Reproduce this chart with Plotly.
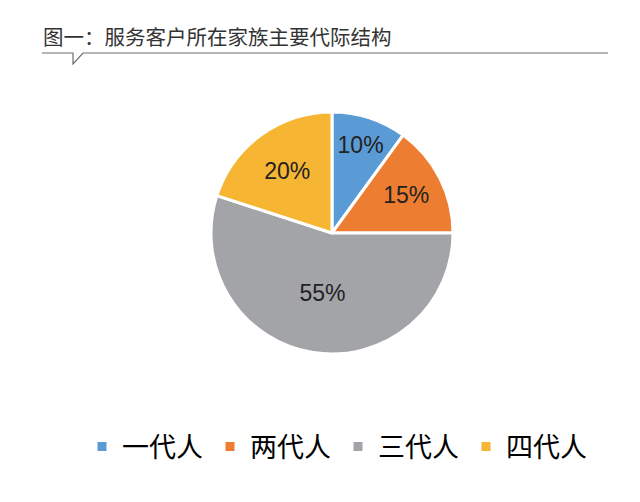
import plotly.graph_objects as go

categories = ["一代人", "两代人", "三代人", "四代人"]
values = [10, 15, 55, 20]
colors = ["#5B9BD5", "#ED7D31", "#A3A4A8", "#F7B534"]
title_text = "图一：服务客户所在家族主要代际结构"

fig = go.Figure()
fig.add_trace(go.Pie(
    labels=categories,
    values=values,
    sort=False,
    direction="clockwise",
    rotation=0,
    marker=dict(colors=colors, line=dict(color="white", width=3)),
    textinfo="percent",
    texttemplate="%{percent:.0%}",
    textposition="inside",
    insidetextorientation="horizontal",
    textfont=dict(family="Liberation Sans, Arial", size=23, color="#222222"),
    domain=dict(x=[211/640, 453/640], y=[1-354/502, 1-112/502]),
    hoverinfo="skip",
))

fig.add_annotation(
    text=title_text, xref="paper", yref="paper", x=41/640, y=1-36/502,
    xanchor="left", yanchor="middle", showarrow=False,
    font=dict(family="Noto Sans CJK SC", size=20.5, color="#333333"),
)
# underline with notch
fig.add_shape(type="path", xref="paper", yref="paper",
              path=f"M {42/640},{1-53/502} L {73/640},{1-53/502} L {73/640},{1-64/502} L {83/640},{1-53/502} L {608/640},{1-53/502}",
              line=dict(color="#6e6e6e", width=1.2))

fig.update_layout(
    width=640, height=502,
    margin=dict(l=0, r=0, t=0, b=0),
    paper_bgcolor="white", plot_bgcolor="white",
    showlegend=True,
    legend=dict(orientation="h", x=82/640, y=1-447/502, xanchor="left", yanchor="middle",
                font=dict(family="Noto Sans CJK SC", size=27, color="#000000"),
                entrywidth=83, itemwidth=30, traceorder="normal"),
)

fig.write_html("out.html")
